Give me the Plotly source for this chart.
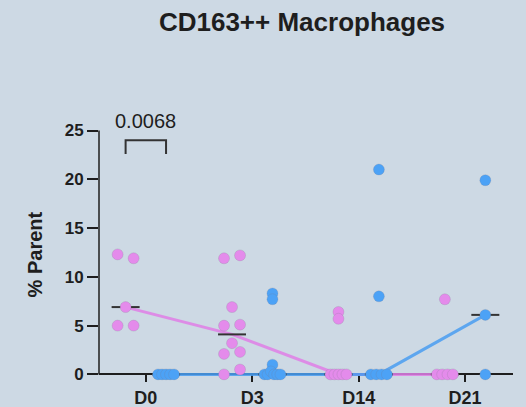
import numpy as np
import plotly.graph_objects as go

# Time points and group values (% of parent)
timepoints = ["D0", "D3", "D14", "D21"]

group_a = [
    [12.3, 11.9, 6.9, 5.0, 5.0],
    [11.9, 12.2, 6.9, 5.0, 5.1, 3.2, 2.1, 2.3, 0.0, 0.5],
    [6.4, 5.7, 0.0, 0.0, 0.0, 0.0, 0.0],
    [7.7, 0.0, 0.0, 0.0, 0.0],
]
group_b = [
    [0.0, 0.0, 0.0, 0.0, 0.0],
    [8.3, 7.7, 1.0, 0.0, 0.0, 0.3, 0.0, 0.0, 0.0],
    [21.0, 8.0, 0.0, 0.0, 0.0, 0.0],
    [19.9, 6.1, 0.0],
]

p_label = "0.0068"

PINK = "#E48BEB"
PINK_LINE = "#E07FE7"
BLUE = "#4CA2F6"
BLUE_LINE = "#4A9EF2"
BG = "#CDD9E4"
INK = "#1E1E1E"
FONT = "Liberation Sans, Arial, sans-serif"

X_RANGE = [-0.44, 3.45]
Y_RANGE = [-1.6, 27]
W, H = 526, 407
M = dict(l=99, r=13, t=111, b=17)
px_per_x = (W - M["l"] - M["r"]) / (X_RANGE[1] - X_RANGE[0])

GROUP_SHIFT = 0.19          # offset of each group from its tick
SPREAD_PX = 16              # max horizontal spread of a row of dots
MED_HALF = 14 / px_per_x    # half-width of the median bar


def swarm_offsets(vals, tol=0.55):
    """Spread dots with near-equal values side by side (column scatter)."""
    vals = np.asarray(vals, float)
    order = np.argsort(-vals, kind="stable")
    offs = np.zeros(len(vals))
    clusters, cur = [], [order[0]]
    for a, b in zip(order[:-1], order[1:]):
        if abs(vals[a] - vals[b]) < tol:
            cur.append(b)
        else:
            clusters.append(cur)
            cur = [b]
    clusters.append(cur)
    for c in clusters:
        n = len(c)
        if n > 1:
            pos = np.linspace(-SPREAD_PX / 2, SPREAD_PX / 2, n) / px_per_x
            for idx, p in zip(sorted(c), pos):
                offs[idx] = p
    return offs


fig = go.Figure()

groups = [(group_a, -GROUP_SHIFT, PINK, PINK_LINE), (group_b, GROUP_SHIFT, BLUE, BLUE_LINE)]

# connecting lines through the medians
for data, shift, col, lcol in groups:
    xs = [i + shift for i in range(len(timepoints))]
    meds = [float(np.median(v)) for v in data]
    fig.add_trace(go.Scatter(x=xs, y=meds, mode="lines",
                             line=dict(color=lcol, width=3), opacity=0.85,
                             hoverinfo="skip", showlegend=False))

# median bars
for data, shift, col, lcol in groups:
    mx, my = [], []
    for i, v in enumerate(data):
        m = float(np.median(v))
        c = i + shift
        mx += [c - MED_HALF, c + MED_HALF, None]
        my += [m, m, None]
    fig.add_trace(go.Scatter(x=mx, y=my, mode="lines",
                             line=dict(color="#333333", width=2),
                             hoverinfo="skip", showlegend=False))

# individual dots
for data, shift, col, lcol in groups:
    xs, ys = [], []
    for i, v in enumerate(data):
        offs = swarm_offsets(v)
        xs += list(i + shift + offs)
        ys += list(v)
    fig.add_trace(go.Scatter(x=xs, y=ys, mode="markers", cliponaxis=False,
                             marker=dict(size=11, color=col,
                                         line=dict(color="rgba(120,120,140,0.35)", width=0.6)),
                             showlegend=False))

# significance bracket between the two D0 groups
fig.add_trace(go.Scatter(x=[-GROUP_SHIFT, -GROUP_SHIFT, GROUP_SHIFT, GROUP_SHIFT],
                         y=[22.6, 24.0, 24.0, 22.6], mode="lines",
                         line=dict(color="#333333", width=2),
                         hoverinfo="skip", showlegend=False))
fig.add_annotation(x=0, y=26.0, xref="x", yref="y", text=p_label, showarrow=False,
                   font=dict(family=FONT, size=20, color=INK),
                   xanchor="center", yanchor="middle")

# y-axis spine limited to 0..25
fig.add_shape(type="line", xref="paper", yref="y", x0=0, x1=0, y0=0, y1=25,
              line=dict(color=INK, width=1.5), layer="above")

# y-axis title
fig.add_annotation(x=(35 - M["l"]) / (W - M["l"] - M["r"]), y=12.3,
                   xref="paper", yref="y", text="<b>% Parent</b>", textangle=-90,
                   showarrow=False, font=dict(family=FONT, size=20, color=INK),
                   xanchor="center", yanchor="middle")

zero_pos = (0 - Y_RANGE[0]) / (Y_RANGE[1] - Y_RANGE[0])

fig.update_layout(
    width=W, height=H, margin=M,
    paper_bgcolor=BG, plot_bgcolor=BG,
    title=dict(text="<b>CD163++ Macrophages</b>", x=302 / W, xanchor="center",
               y=1 - 22 / H, yanchor="middle",
               font=dict(family=FONT, size=26, color=INK)),
    xaxis=dict(range=X_RANGE, tickvals=list(range(len(timepoints))), ticktext=timepoints,
               showgrid=False, zeroline=False, showline=True, linecolor=INK, linewidth=1.5,
               ticks="outside", ticklen=7, tickwidth=1.5, tickcolor=INK,
               anchor="free", position=zero_pos, layer="below traces",
               tickfont=dict(family=FONT, size=18, color=INK, weight="bold"),
               automargin=False),
    yaxis=dict(range=Y_RANGE, tickvals=[0, 5, 10, 15, 20, 25],
               showgrid=False, zeroline=False, showline=False,
               ticks="outside", ticklen=11, tickwidth=1.5, tickcolor=INK,
               tickfont=dict(family=FONT, size=17, color=INK, weight="bold"),
               automargin=False),
)

fig.write_html("out.html")
